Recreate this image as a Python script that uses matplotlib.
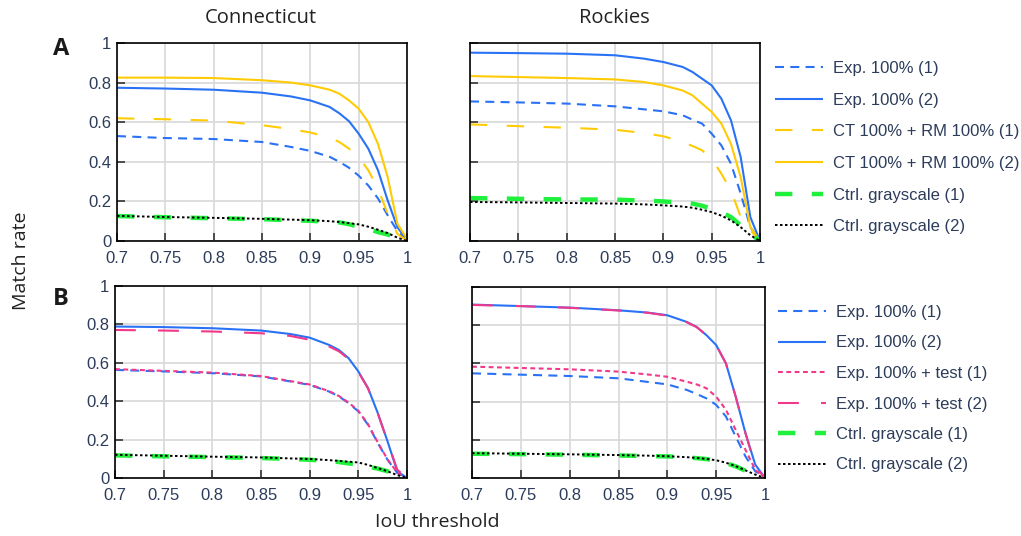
import numpy as np
import matplotlib
matplotlib.use("Agg")
import matplotlib.pyplot as plt

# IoU thresholds where the match rate was sampled
iou = [0.7, 0.75, 0.8, 0.85, 0.88, 0.9, 0.92, 0.93, 0.94, 0.95, 0.96, 0.97, 0.98, 0.99, 1.0]

# Panel A, Connecticut
ct_a_exp1 = [0.53, 0.52, 0.515, 0.50, 0.475, 0.455, 0.425, 0.40, 0.37, 0.33, 0.28, 0.215, 0.13, 0.05, 0.0]
ct_a_exp2 = [0.774, 0.770, 0.764, 0.749, 0.73, 0.71, 0.677, 0.645, 0.605, 0.542, 0.466, 0.357, 0.205, 0.07, 0.005]
ct_a_rm1 = [0.62, 0.615, 0.608, 0.585, 0.565, 0.548, 0.522, 0.50, 0.466, 0.424, 0.357, 0.264, 0.138, 0.037, 0.0]
ct_a_rm2 = [0.825, 0.825, 0.823, 0.812, 0.80, 0.786, 0.764, 0.744, 0.71, 0.668, 0.60, 0.49, 0.323, 0.088, 0.01]
ct_a_gray1 = [0.126, 0.12, 0.115, 0.11, 0.105, 0.102, 0.097, 0.094, 0.085, 0.072, 0.06, 0.045, 0.033, 0.012, 0.0]
ct_a_gray2 = [0.127, 0.121, 0.117, 0.112, 0.108, 0.105, 0.1, 0.096, 0.09, 0.084, 0.072, 0.057, 0.04, 0.017, 0.0]

# Panel A, Rockies
rk_a_exp1 = [0.705, 0.70, 0.694, 0.68, 0.665, 0.655, 0.635, 0.613, 0.593, 0.542, 0.483, 0.39, 0.24, 0.07, 0.0]
rk_a_exp2 = [0.951, 0.949, 0.946, 0.938, 0.921, 0.904, 0.879, 0.854, 0.82, 0.786, 0.719, 0.609, 0.424, 0.121, 0.0]
rk_a_rm1 = [0.589, 0.58, 0.572, 0.562, 0.545, 0.529, 0.50, 0.48, 0.458, 0.416, 0.34, 0.256, 0.121, 0.054, 0.0]
rk_a_rm2 = [0.833, 0.828, 0.823, 0.816, 0.803, 0.786, 0.76, 0.736, 0.694, 0.652, 0.593, 0.49, 0.323, 0.07, 0.0]
rk_a_gray1 = [0.217, 0.213, 0.21, 0.209, 0.204, 0.20, 0.193, 0.189, 0.178, 0.163, 0.146, 0.121, 0.079, 0.037, 0.0]
rk_a_gray2 = [0.197, 0.195, 0.192, 0.189, 0.185, 0.18, 0.174, 0.168, 0.158, 0.146, 0.128, 0.104, 0.07, 0.029, 0.0]

# Panel B, Connecticut
ct_b_exp1 = [0.563, 0.555, 0.546, 0.529, 0.503, 0.485, 0.45, 0.425, 0.39, 0.347, 0.277, 0.182, 0.095, 0.026, 0.0]
ct_b_exp2 = [0.789, 0.786, 0.78, 0.768, 0.75, 0.731, 0.693, 0.667, 0.624, 0.555, 0.468, 0.338, 0.191, 0.035, 0.0]
ct_b_test1 = [0.567, 0.558, 0.549, 0.531, 0.505, 0.487, 0.452, 0.427, 0.393, 0.35, 0.28, 0.185, 0.097, 0.028, 0.0]
ct_b_test2 = [0.771, 0.768, 0.763, 0.754, 0.74, 0.72, 0.685, 0.66, 0.62, 0.552, 0.466, 0.336, 0.19, 0.043, 0.0]
ct_b_gray1 = [0.118, 0.113, 0.109, 0.104, 0.099, 0.095, 0.088, 0.083, 0.076, 0.069, 0.059, 0.049, 0.035, 0.014, 0.0]
ct_b_gray2 = [0.121, 0.116, 0.111, 0.107, 0.102, 0.099, 0.093, 0.089, 0.085, 0.081, 0.068, 0.052, 0.035, 0.015, 0.0]

# Panel B, Rockies
rk_b_exp1 = [0.548, 0.541, 0.534, 0.522, 0.503, 0.49, 0.461, 0.44, 0.417, 0.383, 0.322, 0.217, 0.113, 0.035, 0.0]
rk_b_exp2 = [0.908, 0.90, 0.892, 0.878, 0.866, 0.852, 0.817, 0.791, 0.748, 0.696, 0.60, 0.426, 0.235, 0.07, 0.0]
rk_b_test1 = [0.583, 0.576, 0.569, 0.557, 0.542, 0.53, 0.504, 0.49, 0.47, 0.426, 0.357, 0.252, 0.148, 0.043, 0.0]
rk_b_test2 = [0.906, 0.90, 0.891, 0.877, 0.865, 0.85, 0.815, 0.79, 0.748, 0.696, 0.60, 0.426, 0.235, 0.06, 0.0]
rk_b_gray1 = [0.127, 0.125, 0.122, 0.118, 0.115, 0.113, 0.108, 0.104, 0.099, 0.092, 0.078, 0.061, 0.038, 0.017, 0.0]
rk_b_gray2 = [0.13, 0.127, 0.124, 0.12, 0.117, 0.114, 0.109, 0.105, 0.1, 0.093, 0.08, 0.062, 0.04, 0.018, 0.0]

labels_a = ["Exp. 100% (1)", "Exp. 100% (2)", "CT 100% + RM 100% (1)",
            "CT 100% + RM 100% (2)", "Ctrl. grayscale (1)", "Ctrl. grayscale (2)"]
labels_b = ["Exp. 100% (1)", "Exp. 100% (2)", "Exp. 100% + test (1)",
            "Exp. 100% + test (2)", "Ctrl. grayscale (1)", "Ctrl. grayscale (2)"]

BLUE = "#2a72f5"
YELLOW = "#ffcb05"
GREEN = "#1ef03c"
PINK = "#f0398a"
TICK_COLOR = "#2c3c5a"

# line styles in the order the series are drawn (dashes in points)
styles_a = [
    dict(color=BLUE, lw=1.5, dashes=(6.5, 4.5)),
    dict(color=BLUE, lw=1.5),
    dict(color=YELLOW, lw=1.5, dashes=(12.5, 14)),
    dict(color=YELLOW, lw=1.5),
    dict(color=GREEN, lw=3.2, dashes=(12.5, 14)),
    dict(color="black", lw=1.4, dashes=(1.8, 1.8)),
]
styles_b = [
    dict(color=BLUE, lw=1.5, dashes=(6.5, 4.5)),
    dict(color=BLUE, lw=1.5),
    dict(color=PINK, lw=1.5, dashes=(3.5, 2.5)),
    dict(color=PINK, lw=1.5, dashes=(15, 16)),
    dict(color=GREEN, lw=3.2, dashes=(12.5, 14)),
    dict(color="black", lw=1.4, dashes=(1.8, 1.8)),
]

plt.rcParams["font.family"] = ["Liberation Sans", "DejaVu Sans"]
plt.rcParams["lines.scale_dashes"] = False

W, H = 1021, 536
fig = plt.figure(figsize=(W / 100, H / 100), dpi=100)


def add_axes_px(left, top, right, bottom):
    return fig.add_axes([left / W, 1 - bottom / H, (right - left) / W, (bottom - top) / H])


def draw_panel(ax, series, styles, labels, show_ylabels):
    lines = []
    for ys, st, lab in zip(series, styles, labels):
        line, = ax.plot(iou, ys, label=lab, solid_capstyle="butt", dash_capstyle="butt", **st)
        lines.append(line)
    ax.set_xlim(0.7, 1.0)
    ax.set_ylim(0, 1)
    ax.set_xticks(np.arange(0.7, 1.001, 0.05))
    ax.set_xticklabels(["0.7", "0.75", "0.8", "0.85", "0.9", "0.95", "1"])
    ax.set_yticks(np.arange(0, 1.001, 0.2))
    ax.set_yticklabels(["0", "0.2", "0.4", "0.6", "0.8", "1"])
    if not show_ylabels:
        ax.tick_params(axis="y", labelleft=False)
    ax.grid(True, color="#d8d8d8", lw=1.2)
    ax.set_axisbelow(True)
    ax.tick_params(direction="in", length=6, width=1.2, color="#333333",
                   labelsize=12, labelcolor=TICK_COLOR)
    ax.tick_params(axis="x", pad=7)
    ax.tick_params(axis="y", pad=4)
    for sp in ax.spines.values():
        sp.set_linewidth(1.2)
    return lines


ax1 = add_axes_px(117, 43, 407, 241)
ax2 = add_axes_px(470, 43, 760, 241)
ax3 = add_axes_px(115, 286, 407, 478)
ax4 = add_axes_px(472, 287, 765, 478)

lines_a = draw_panel(ax1, [ct_a_exp1, ct_a_exp2, ct_a_rm1, ct_a_rm2, ct_a_gray1, ct_a_gray2],
                     styles_a, labels_a, True)
draw_panel(ax2, [rk_a_exp1, rk_a_exp2, rk_a_rm1, rk_a_rm2, rk_a_gray1, rk_a_gray2],
           styles_a, labels_a, False)
lines_b = draw_panel(ax3, [ct_b_exp1, ct_b_exp2, ct_b_test1, ct_b_test2, ct_b_gray1, ct_b_gray2],
                     styles_b, labels_b, True)
draw_panel(ax4, [rk_b_exp1, rk_b_exp2, rk_b_test1, rk_b_test2, rk_b_gray1, rk_b_gray2],
           styles_b, labels_b, False)

# legends to the right of each row
legend_kw = dict(loc="upper left", frameon=False, fontsize=12, handlelength=2.9,
                 handletextpad=0.6, borderpad=0, borderaxespad=0,
                 labelcolor=TICK_COLOR)
fig.legend(lines_a, labels_a, bbox_to_anchor=(775 / W, 1 - 61 / H),
           labelspacing=1.0, **legend_kw)
fig.legend(lines_b, labels_b, bbox_to_anchor=(778 / W, 1 - 305 / H),
           labelspacing=0.93, **legend_kw)

# column titles, panel letters and shared axis labels
title_font = ["Open Sans", "DejaVu Sans"]
fig.text(261 / W, 1 - 18 / H, "Connecticut", ha="center", va="center",
         fontsize=14.5, color="#222222", family=title_font)
fig.text(614 / W, 1 - 18 / H, "Rockies", ha="center", va="center",
         fontsize=14.5, color="#222222", family=title_font)
fig.text(61 / W, 1 - 49 / H, "A", ha="center", va="center", fontsize=17,
         fontweight="bold", color="#1a1a1a", family=title_font)
fig.text(61 / W, 1 - 299 / H, "B", ha="center", va="center", fontsize=17,
         fontweight="bold", color="#1a1a1a", family=title_font)
fig.text(21 / W, 1 - 261 / H, "Match rate", ha="center", va="center", rotation=90,
         fontsize=14, color="#222222", family=title_font)
fig.text(437 / W, 1 - 522 / H, "IoU threshold", ha="center", va="center",
         fontsize=14, color="#222222", family=title_font)

fig.savefig("out.png", dpi=100)
